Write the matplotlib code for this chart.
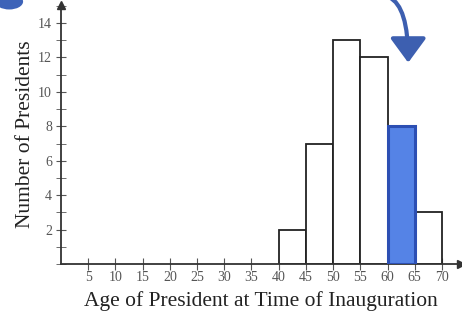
import matplotlib.pyplot as plt
from matplotlib.patches import Ellipse
from matplotlib.ticker import MultipleLocator

bin_edges = [40, 45, 50, 55, 60, 65]
counts = [2, 7, 13, 12, 8, 3]
highlight = 60
x_ticks = list(range(5, 75, 5))
y_ticks = list(range(2, 16, 2))

plt.rcParams['font.family'] = ['Liberation Serif', 'DejaVu Serif']

fig = plt.figure(figsize=(4.62, 3.16), dpi=100)
ax = fig.add_axes([61 / 462, 52 / 316, 400 / 462, 259 / 316])

for left, c in zip(bin_edges, counts):
    if left == highlight:
        ax.bar(left, c, width=5, align='edge', facecolor='#5583e6',
               edgecolor='#2c4fb3', linewidth=2.2, zorder=3)
    else:
        ax.bar(left, c, width=5, align='edge', facecolor='white',
               edgecolor='#222222', linewidth=1.3, zorder=2)

ax.set_xlim(0, 73.5)
ax.set_ylim(0, 15.05)
for s in ['top', 'right']:
    ax.spines[s].set_visible(False)
for s in ['left', 'bottom']:
    ax.spines[s].set_color('#333333')
    ax.spines[s].set_linewidth(1.3)

# axis arrows
ax.plot(1, 0, '>', color='#333333', ms=6, transform=ax.transAxes, clip_on=False)
ax.plot(0, 1, '^', color='#333333', ms=6, transform=ax.transAxes, clip_on=False)

ax.set_xticks(x_ticks)
ax.set_yticks(y_ticks)
ax.yaxis.set_minor_locator(MultipleLocator(1))
ax.tick_params(axis='both', which='both', direction='inout', color='#555555',
               labelsize=10, labelcolor='#555555')
ax.tick_params(axis='x', length=8, pad=1)
ax.tick_params(axis='y', which='major', length=7, pad=3)
ax.tick_params(axis='y', which='minor', length=7)

ax.set_xlabel('Age of President at Time of Inauguration', fontsize=15.5,
              color='#222222', labelpad=5)
ax.set_ylabel('Number of Presidents', fontsize=15.5, color='#222222', labelpad=2)

# hand-drawn blue arrow pointing at the highlighted bar
ax.annotate('', xy=(63.8, 11.7), xytext=(60.3, 15.5),
            arrowprops=dict(arrowstyle='-|>,head_width=0.55,head_length=0.75',
                            connectionstyle='angle3,angleA=-25,angleB=90',
                            color='#3d5fb0', lw=3, mutation_scale=20,
                            shrinkA=0, shrinkB=0),
            annotation_clip=False)

# blue marker blob at the top-left corner
fig.patches.append(Ellipse((0.02, 0.995), 0.06, 0.05, transform=fig.transFigure,
                           facecolor='#3d63b8', edgecolor='none'))

fig.savefig('out.png', dpi=100)
